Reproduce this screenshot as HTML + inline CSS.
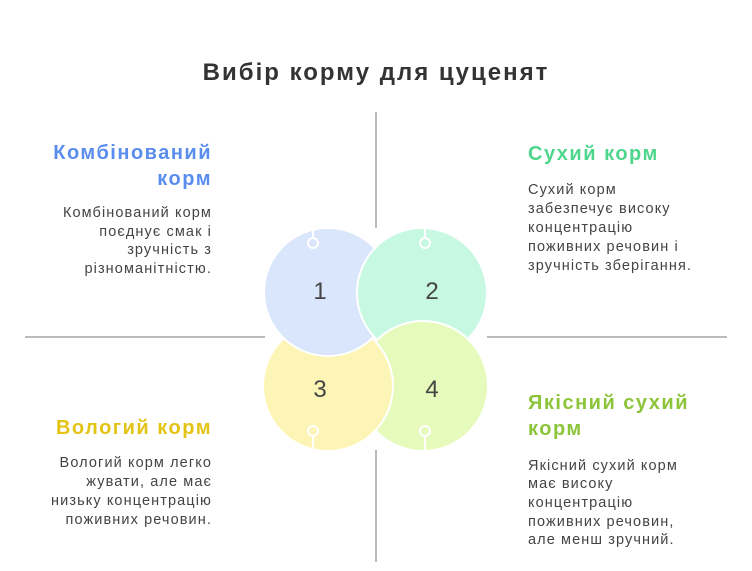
<!DOCTYPE html>
<html><head><meta charset="utf-8"><style>
html,body{margin:0;padding:0;background:#fff;}
svg{display:block;}
.h{font-family:"Liberation Sans","Noto Sans CJK SC",sans-serif;font-weight:bold;font-size:20px;letter-spacing:1.5px;}
.b{font-family:"Liberation Sans","Noto Sans CJK SC",sans-serif;font-size:14.5px;letter-spacing:1.1px;fill:#444;}
.n{font-family:"Liberation Sans",sans-serif;font-size:24px;fill:#444;text-anchor:middle;}
</style></head><body>
<svg width="752" height="571" viewBox="0 0 752 571" xmlns="http://www.w3.org/2000/svg">
<rect width="752" height="571" fill="#fff"/>
<text x="376" y="80" text-anchor="middle" font-family="Liberation Sans, sans-serif" font-weight="bold" font-size="24" letter-spacing="2" fill="#333">Вибір корму для цуценят</text>
<g stroke="#bbb" stroke-width="2">
<line x1="376" y1="112" x2="376" y2="228"/>
<line x1="376" y1="450" x2="376" y2="562"/>
<line x1="25" y1="337" x2="265" y2="337"/>
<line x1="487" y1="337" x2="727" y2="337"/>
</g>
<defs><clipPath id="c1"><circle cx="328" cy="292" r="65.5"/></clipPath></defs>
<g stroke="#fff" stroke-width="2">
<circle cx="422" cy="293" r="65" fill="#c6f8e2"/>
<circle cx="423" cy="386" r="65" fill="#e6fbbb"/>
<circle cx="328" cy="386" r="65" fill="#fdf5b5"/>
<circle cx="328" cy="292" r="64" fill="#d9e6fc"/>
<circle cx="422" cy="293" r="65" fill="#c6f8e2" clip-path="url(#c1)"/>
</g>
<g stroke="#fff" stroke-width="2" fill="none">
<line x1="313" y1="228" x2="313" y2="237"/><circle cx="313" cy="243" r="5"/>
<line x1="425" y1="228" x2="425" y2="237"/><circle cx="425" cy="243" r="5"/>
<line x1="313" y1="437" x2="313" y2="450"/><circle cx="313" cy="431" r="5"/>
<line x1="425" y1="437" x2="425" y2="450"/><circle cx="425" cy="431" r="5"/>
</g>
<text class="n" x="320" y="299">1</text>
<text class="n" x="432" y="299">2</text>
<text class="n" x="320" y="397">3</text>
<text class="n" x="432" y="397">4</text>

<g text-anchor="end">
<text class="h" x="212" y="159" fill="#5b8def">Комбінований</text>
<text class="h" x="212" y="185" fill="#5b8def">корм</text>
<text class="b" x="212" y="217">Комбінований корм</text>
<text class="b" x="212" y="236">поєднує смак і</text>
<text class="b" x="212" y="254">зручність з</text>
<text class="b" x="212" y="273">різноманітністю.</text>
<text class="h" x="212" y="434" fill="#e3c414">Вологий корм</text>
<text class="b" x="212" y="467">Вологий корм легко</text>
<text class="b" x="212" y="486">жувати, але має</text>
<text class="b" x="212" y="505">низьку концентрацію</text>
<text class="b" x="212" y="524">поживних речовин.</text>
</g>
<g>
<text class="h" x="528" y="160" fill="#4fd68d">Сухий корм</text>
<text class="b" x="528" y="194">Сухий корм</text>
<text class="b" x="528" y="213">забезпечує високу</text>
<text class="b" x="528" y="232">концентрацію</text>
<text class="b" x="528" y="251">поживних речовин і</text>
<text class="b" x="528" y="270">зручність зберігання.</text>
<text class="h" x="528" y="409" fill="#8cc43a">Якісний сухий</text>
<text class="h" x="528" y="435" fill="#8cc43a">корм</text>
<text class="b" x="528" y="470">Якісний сухий корм</text>
<text class="b" x="528" y="488">має високу</text>
<text class="b" x="528" y="507">концентрацію</text>
<text class="b" x="528" y="526">поживних речовин,</text>
<text class="b" x="528" y="544">але менш зручний.</text>
</g>
</svg>
</body></html>
